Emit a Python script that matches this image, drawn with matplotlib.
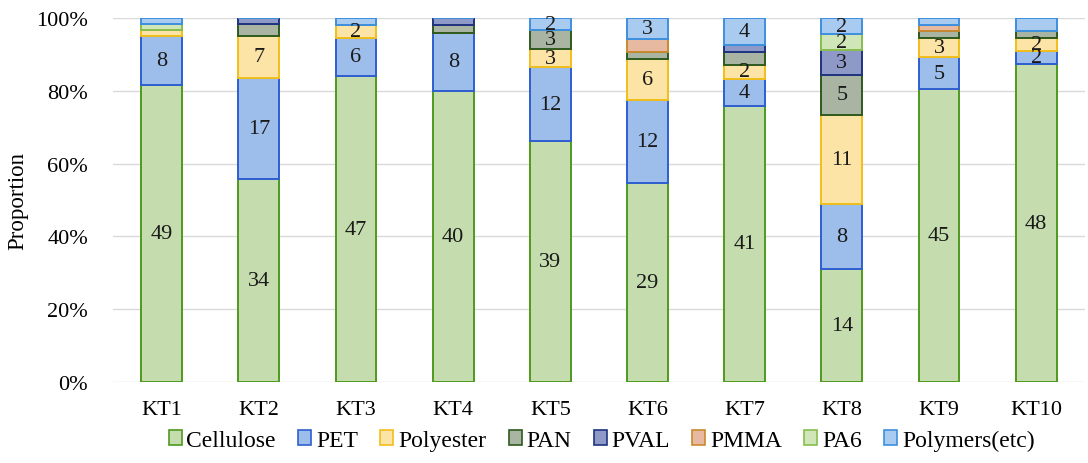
import matplotlib
matplotlib.use('Agg')
import matplotlib.pyplot as plt
import numpy as np
from matplotlib.patches import Patch

plt.rcParams['font.family'] = ['Liberation Serif', 'DejaVu Serif']

sites = ['KT1', 'KT2', 'KT3', 'KT4', 'KT5', 'KT6', 'KT7', 'KT8', 'KT9', 'KT10']
polymers = ['Cellulose', 'PET', 'Polyester', 'PAN', 'PVAL', 'PMMA', 'PA6', 'Polymers(etc)']

# particle counts per site
cellulose = [49, 34, 47, 40, 39, 29, 41, 14, 45, 48]
pet       = [8, 17, 6, 8, 12, 12, 4, 8, 5, 2]
polyester = [1, 7, 2, 0, 3, 6, 2, 11, 3, 2]
pan       = [0, 2, 0, 1, 3, 1, 2, 5, 1, 1]
pval      = [0, 1, 0, 1, 0, 0, 1, 3, 0, 0]
pmma      = [0, 0, 0, 0, 0, 2, 0, 0, 1, 0]
pa6       = [1, 0, 0, 0, 0, 0, 0, 2, 0, 0]
others    = [1, 0, 1, 0, 2, 3, 4, 2, 1, 2]

# segments that carry no count label
unlabeled = {(1, 'PAN'), (5, 'PMMA'), (6, 'PAN'), (9, 'Polymers(etc)')}

faces = ['#C4DCAE', '#9DBDEA', '#FCE3A6', '#A9B4A2', '#8F99C8', '#E6B9A0', '#D0E6B9', '#A9CBF0']
edges = ['#4E9A1E', '#2F5FD0', '#F2BE1A', '#2E5A1E', '#1F3380', '#C98A2E', '#86BE4E', '#3E8FE0']

counts = np.array([cellulose, pet, polyester, pan, pval, pmma, pa6, others], dtype=float)
props = counts / counts.sum(axis=0)

fig = plt.figure(figsize=(10.88, 4.64), dpi=100)
ax = fig.add_axes([0.104, 0.175, 0.893, 0.784])

x = np.arange(len(sites))
bottom = np.zeros(len(sites))
for k, name in enumerate(polymers):
    ax.bar(x, props[k], 0.42, bottom=bottom, color=faces[k],
           edgecolor=edges[k], linewidth=1.4, zorder=3)
    for i in range(len(sites)):
        c = counts[k, i]
        if c >= 2 and (i, name) not in unlabeled:
            ax.text(x[i], bottom[i] + props[k, i] / 2, f'{int(c)}',
                    ha='center', va='center', fontsize=16, color='#1a1a1a', zorder=4)
    bottom += props[k]

ax.set_xlim(-0.5, len(sites) - 0.5)
ax.set_ylim(0, 1.0)
ax.set_yticks(np.arange(0, 1.01, 0.2))
ax.set_yticklabels([f'{int(v * 100)}%' for v in np.arange(0, 1.01, 0.2)], fontsize=16)
ax.set_xticks(x)
ax.set_xticklabels(sites, fontsize=16)
ax.tick_params(axis='y', length=0, pad=18)
ax.tick_params(axis='x', length=0, pad=13)
ax.set_ylabel('Proportion', fontsize=16.5, labelpad=6)
ax.grid(axis='y', color='#D9D9D9', linewidth=1, zorder=0)
for s in ax.spines.values():
    s.set_visible(False)

handles = [Patch(facecolor=faces[k], edgecolor=edges[k], linewidth=1.2, label=polymers[k])
           for k in range(len(polymers))]
fig.legend(handles=handles, loc='lower center', bbox_to_anchor=(0.553, -0.02), ncol=8,
           frameon=False, fontsize=17, handlelength=0.55, handleheight=0.6,
           handletextpad=0.2, columnspacing=0.95)

fig.savefig('out.png', dpi=100, facecolor='white')
